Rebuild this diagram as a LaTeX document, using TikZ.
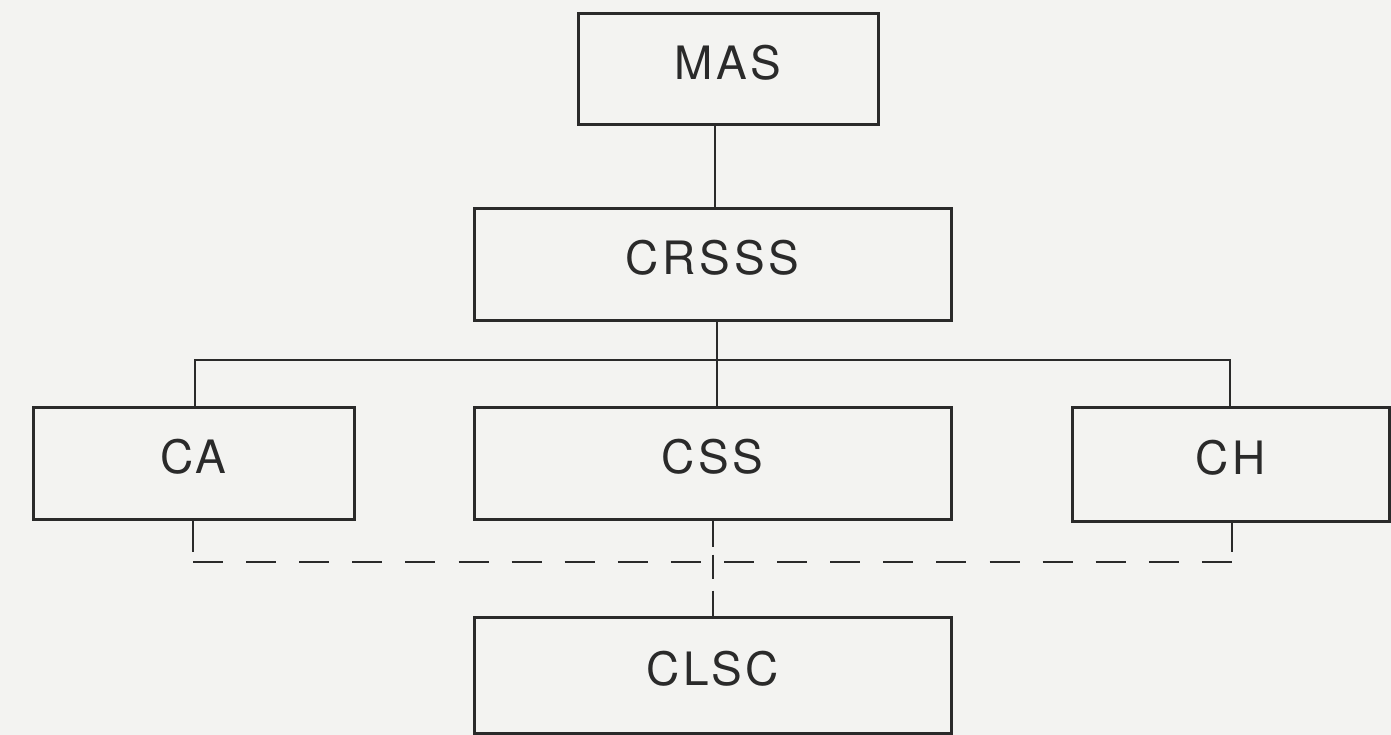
\documentclass[tikz,border=0pt]{standalone}
\usepackage{fontspec}
\setmainfont{TeX Gyre Heros}[LetterSpace=8]
\definecolor{ink}{HTML}{2A2A2A}
\definecolor{paper}{HTML}{F3F3F1}
\begin{document}
\begin{tikzpicture}[x=1pt,y=-1pt,
  box/.style={draw=ink,line width=3pt,fill=paper,inner sep=0pt,text=ink,text depth=14pt,font=\fontsize{46}{52}\selectfont},
  conn/.style={draw=ink,line width=2.8pt},
  dconn/.style={draw=ink,line width=2.8pt,dash pattern=on 30pt off 23.1pt}]
\fill[paper] (0,0) rectangle (1391,735);
\useasboundingbox (0,0) rectangle (1391,735);
\node[box,minimum width=300pt,minimum height=111pt] (MAS) at (728,69.5) {MAS};
\node[box,minimum width=477pt,minimum height=111pt] (CRSSS) at (712.5,264.5) {CRSSS};
\node[box,minimum width=321pt,minimum height=112pt] (CA) at (193.5,463) {CA};
\node[box,minimum width=477pt,minimum height=112pt] (CSS) at (712.5,463) {CSS};
\node[box,minimum width=317pt,minimum height=114pt] (CH) at (1230.5,464) {CH};
\node[box,minimum width=477pt,minimum height=116pt] (CLSC) at (712.5,675) {CLSC};
\coordinate (busL) at (195,360);
\coordinate (busR) at (1230,360);
\coordinate (busM) at (717,360);
\coordinate (dL) at (193,552);
\coordinate (dR) at (1232,552);
\coordinate (dhL) at (193,562);
\coordinate (dhR) at (1232,562);
\draw[conn] (MAS.south -| 715,0) -- (CRSSS.north -| 715,0);
\draw[conn] (CRSSS.south -| busM) -- (busM);
\draw[conn] (CA.north -| busL) -- (busL) -- (busR) -- (CH.north -| busR);
\draw[conn] (busM) -- (CSS.north -| busM);
\draw[conn] (CA.south -| dL) -- (dL);
\draw[conn] (CH.south -| dR) -- (dR);
\draw[dconn] (dhL) -- (dhR);
\draw[conn,dash pattern=on 26pt off 8pt on 24pt off 12pt] (CSS.south -| 713,0) -- (CLSC.north -| 713,0);
\end{tikzpicture}
\end{document}
